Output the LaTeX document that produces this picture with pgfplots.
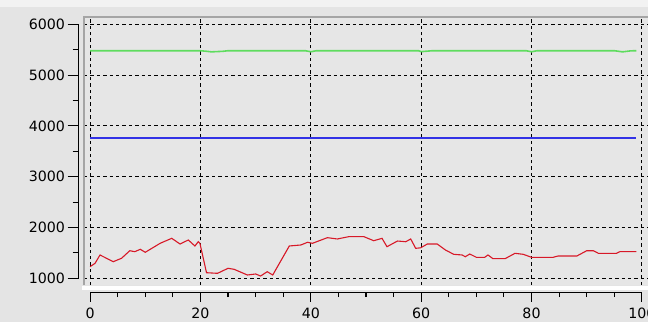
\documentclass[border=0pt]{standalone}
\usepackage{pgfplots}
\pgfplotsset{compat=1.18}
\usepackage{fontspec}
\setmainfont{DejaVu Sans}
\definecolor{bg}{RGB}{228,228,228}
\definecolor{canvas}{RGB}{230,230,230}
\definecolor{framec}{RGB}{165,165,165}
\definecolor{topc}{RGB}{242,242,242}
\definecolor{redl}{RGB}{215,25,40}
\definecolor{greenl}{RGB}{95,220,95}
\definecolor{bluel}{RGB}{50,50,230}
\pgfplotsset{
  tlfont/.style={font=\fontsize{14.2bp}{16bp}\selectfont},
}
\begin{document}
\begin{tikzpicture}[x=1bp,y=1bp]
\useasboundingbox (0,0) rectangle (648,322);
\fill[bg] (0,0) rectangle (648,322);
\fill[topc] (0,315) rectangle (648,322);
\fill[white] (82,32) rectangle (648,36.5);
% main canvas
\begin{axis}[
  at={(84bp,37bp)}, anchor=south west,
  scale only axis, width=564bp, height=268bp,
  xmin=-1.1, xmax=101.1, ymin=868, ymax=6144,
  xtick={0,20,40,60,80,100}, ytick={1000,2000,3000,4000,5000,6000},
  xticklabels={}, yticklabels={},
  major tick length=0pt,
  grid=major,
  major grid style={black, line width=0.9bp, dash pattern=on 3.4bp off 3bp},
  axis line style={draw=none},
  axis background/.style={fill=canvas},
  clip=false,
]
\addplot[greenl, line width=1.6bp] coordinates {
(0,5480) (20,5480) (21,5470) (22,5458) (24,5468) (25,5480) (39,5480) (40,5460) (41,5480)
(59.5,5480) (60,5462) (62,5480) (79,5480) (80,5460) (81,5480) (95,5480) (96.5,5458) (98,5478) (99,5480)};
\addplot[color=bluel, line width=1.4bp] coordinates {(0,3765) (99,3765)};
\addplot[redl, line width=1.1bp] coordinates {
(0,1228) (0.9,1295) (1.8,1459) (4.2,1327) (5.7,1394) (7.2,1543) (8.1,1524) (9.1,1571)
(10,1512) (12.7,1689) (14.8,1787) (16.3,1675) (17.8,1754) (19,1636) (19.6,1720) (19.9,1690)
(21.1,1110) (23.1,1098) (25,1197) (26.1,1177) (28.5,1065) (30,1085) (30.9,1045) (32.1,1130)
(33.1,1065) (36.1,1636) (38.2,1656) (39.4,1709) (40.3,1689) (43,1800) (44.8,1774) (46.9,1820)
(49.6,1820) (51.4,1740) (52.9,1787) (53.8,1622) (55.7,1734) (57.2,1720) (58.1,1774) (59,1590)
(59.9,1600) (61.1,1675) (62.9,1675) (64.4,1557) (65.9,1472) (67.4,1459) (68,1425) (68.8,1478)
(70,1413) (71.5,1413) (72.1,1459) (73,1386) (75.2,1386) (77,1492) (78.5,1472) (80,1413)
(83.9,1413) (84.8,1439) (88.2,1439) (90,1543) (91.2,1543) (92.1,1492) (95.4,1492) (96,1524) (99,1524)};
\draw[framec, line width=2.2bp] (rel axis cs:0,0) -- (rel axis cs:0,1) -- (rel axis cs:1,1);
\end{axis}
% y scale
\begin{axis}[
  at={(78.5bp,43.7bp)}, anchor=south west,
  scale only axis, width=1bp, height=254bp,
  xmin=0, xmax=1, ymin=1000, ymax=6000,
  axis x line=none, axis y line*=left,
  ytick={1000,2000,3000,4000,5000,6000},
  minor y tick num=1,
  tick align=outside,
  major tick length=11bp, minor tick length=6bp,
  tick style={black, line width=1.1bp},
  axis line style={black, line width=1.1bp},
  yticklabel style={tlfont, xshift=1bp},
  /pgf/number format/assume math mode=true,
  /pgf/number format/1000 sep={},
  scaled ticks=false,
]
\addplot[draw=none] coordinates {(0,1000)};
\end{axis}
% x scale
\begin{axis}[
  at={(90.07bp,29.5bp)}, anchor=south west,
  scale only axis, width=551.8bp, height=1bp,
  xmin=0, xmax=100, ymin=0, ymax=1,
  axis y line=none, axis x line*=bottom,
  xtick={0,20,40,60,80,100},
  minor x tick num=3,
  tick align=outside,
  major tick length=9bp, minor tick length=4.5bp,
  tick style={black, line width=1.1bp},
  axis line style={black, line width=1.1bp},
  xticklabel style={tlfont, yshift=-3bp},
  /pgf/number format/assume math mode=true,
  /pgf/number format/1000 sep={},
  scaled ticks=false,
]
\addplot[draw=none] coordinates {(0,0)};
\end{axis}
\end{tikzpicture}
\end{document}
